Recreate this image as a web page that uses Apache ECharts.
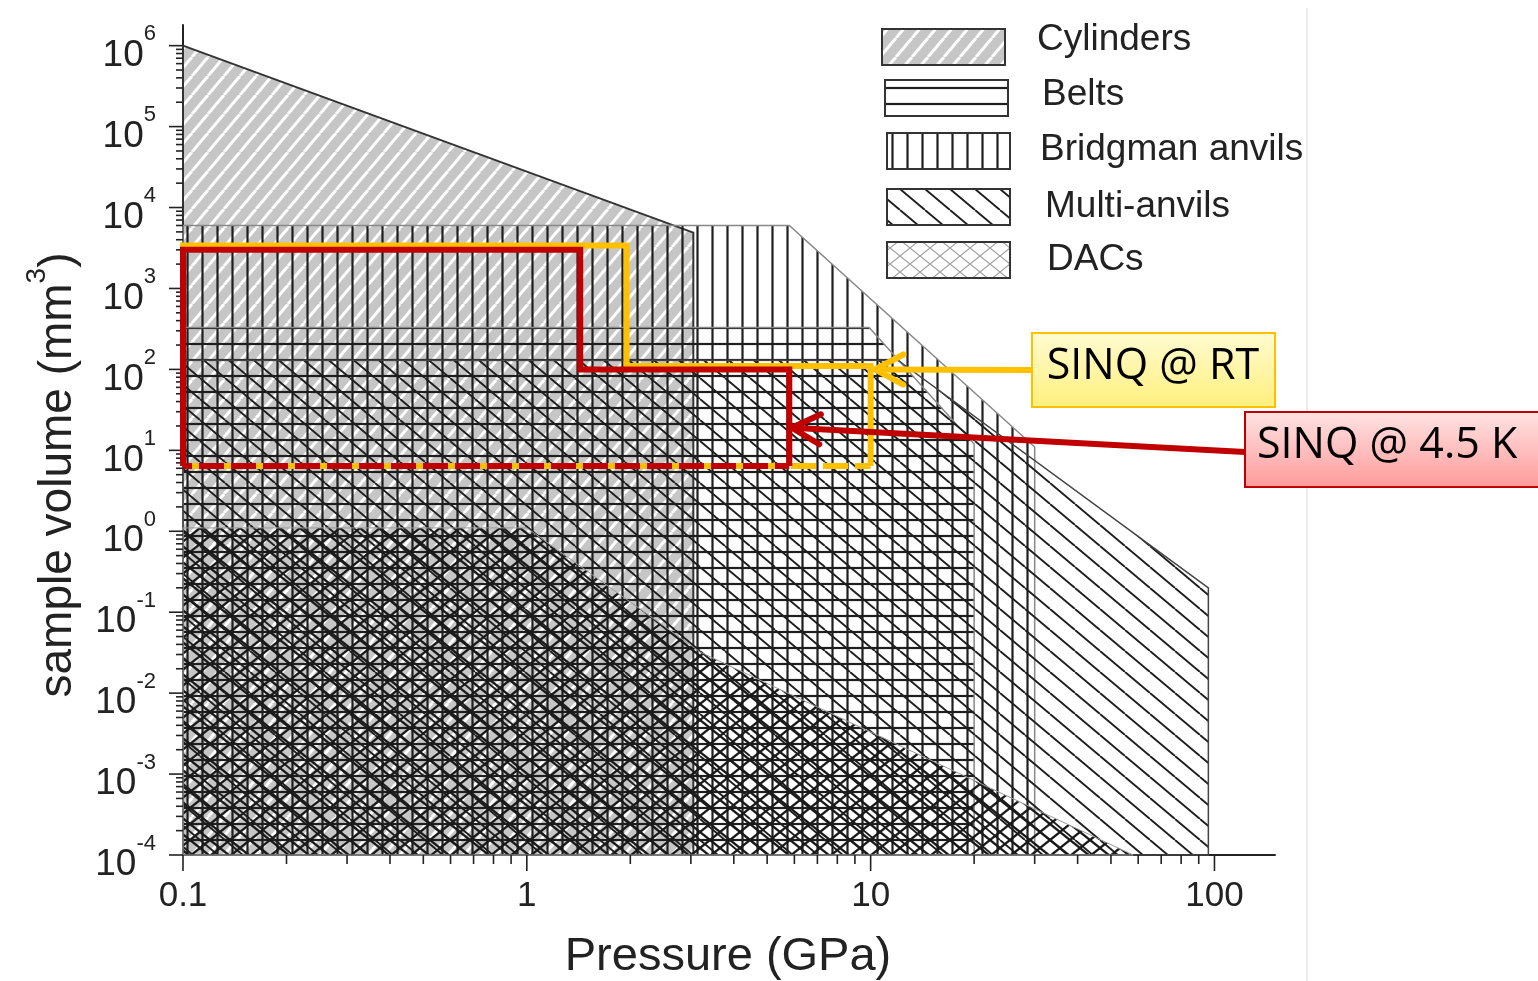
<!DOCTYPE html>
<html>
<head>
<meta charset="utf-8">
<title>Sample volume vs pressure</title>
<script src="https://cdn.jsdelivr.net/npm/echarts@6/dist/echarts.min.js"></script>
<style>
    html, body { margin: 0; padding: 0; background: #fff; }
    #main { width: 1538px; height: 981px; }
</style>
</head>
<body>
<div id="main"></div>
<script>
// axis ranges
var xMin = 0.1, xMax = 150;
var yMin = 1e-4, yMax = 1.8e6;
var pressureTicks = [0.1, 1, 10, 100];
var volumeTicks = [1e-4, 1e-3, 1e-2, 1e-1, 1, 10, 100, 1e3, 1e4, 1e5, 1e6];

// outline of each technique, [pressure GPa, volume mm^3]
var cylinders = [[0.1, 1e-4], [0.1, 1e6], [3.05, 4.9e3], [3.05, 1e-4]];
var bridgman = [[0.1, 1e-4], [0.1, 6e3], [5.8, 6e3], [30, 11], [30, 1e-4]];
var belts = [[0.1, 1e-4], [0.1, 330], [9.9, 330], [20, 12], [20, 1e-4]];
var multiAnvils = [[0.1, 1e-4], [0.1, 130], [12, 130], [96, 0.2], [96, 1e-4]];
var dacs = [[0.1, 1e-4], [0.1, 1.1], [1, 1.1], [3.2, 0.032], [58, 1e-4]];

// SINQ ranges
var sinqRT = [[0.1, 6.4], [0.1, 3.4e3], [1.95, 3.4e3], [1.95, 110], [10, 110], [10, 6.4]];
var sinqRTBottom = [[0.1, 6.4], [10, 6.4]];
var sinq4K = [[0.1, 6.4], [0.1, 3e3], [1.43, 3e3], [1.43, 100], [5.8, 100], [5.8, 6.4]];
var sinq4KBottom = [[0.1, 6.4], [5.8, 6.4]];
var rtTip = [10.3, 100];
var lowTip = [5.9, 19];

// minor tick positions 2..9 per decade
function logMinor(lo, hi) {
    var out = [];
    for (var e = lo; e < hi; e++) {
        for (var k = 2; k <= 9; k++) out.push(k * Math.pow(10, e));
    }
    return out;
}
var xMinor = logMinor(-1, 2);
var yMinor = logMinor(-4, 6);

// hatch fills
function hatch(w, h, bg, stroke, width, segs) {
    var c = document.createElement('canvas');
    c.width = w; c.height = h;
    var ctx = c.getContext('2d');
    if (bg) { ctx.fillStyle = bg; ctx.fillRect(0, 0, w, h); }
    ctx.strokeStyle = stroke;
    ctx.lineWidth = width;
    segs.forEach(function(s) {
        ctx.beginPath(); ctx.moveTo(s[0], s[1]); ctx.lineTo(s[2], s[3]); ctx.stroke();
    });
    return { image: c, repeat: 'repeat' };
}
var cylFill = hatch(16, 19, '#c6c6c6', '#ffffff', 3, [[-16, 19, 0, 0], [0, 19, 16, 0], [16, 19, 32, 0]]);
var bridgFill = hatch(15, 10, null, '#1e1e1e', 2.2, [[7.5, -1, 7.5, 11]]);
var beltFill = hatch(10, 16, null, '#1e1e1e', 2.2, [[-1, 8, 11, 8]]);
var multiFill = hatch(25, 21, null, '#1e1e1e', 1.9, [[-25, 0, 0, 21], [0, 0, 25, 21], [25, 0, 50, 21]]);
var xSegs = [[-20, 0, 0, 16], [0, 0, 20, 16], [20, 0, 40, 16], [-20, 16, 0, 0], [0, 16, 20, 0], [20, 16, 40, 0]];
var dacFill = hatch(20, 16, null, '#1a1a1a', 2.3, xSegs);
var dacLegendFill = hatch(20, 16, null, '#a0a0a0', 1.2, xSegs);

var regions = [
    { pts: cylinders, fill: cylFill, stroke: '#333', width: 2 },
    { pts: bridgman, fill: bridgFill, stroke: '#888', width: 1.5 },
    { pts: belts, fill: beltFill, stroke: '#888', width: 1.5 },
    { pts: multiAnvils, fill: multiFill, stroke: '#444', width: 1.5 },
    { pts: dacs, fill: dacFill, stroke: '#999', width: 1 }
];

var chart = echarts.init(document.getElementById('main'));

function isPow(v) {
    var l = Math.log10(v);
    return Math.abs(l - Math.round(l)) < 1e-6;
}

function tickSeries(vals, onX, len) {
    return {
        type: 'custom',
        silent: true,
        data: vals.map(function(v) { return onX ? [v, yMin] : [xMin, v]; }),
        renderItem: function(params, api) {
            var p = api.coord([api.value(0), api.value(1)]);
            var shape = onX ? { x1: p[0], y1: p[1], x2: p[0], y2: p[1] + len }
                            : { x1: p[0], y1: p[1], x2: p[0] - len, y2: p[1] };
            return { type: 'line', shape: shape, style: { stroke: '#222', lineWidth: 1.6 } };
        }
    };
}

function pathSeries(pts, color, dash, offset) {
    return {
        type: 'custom',
        silent: true,
        data: [pts[0]],
        renderItem: function(params, api) {
            return {
                type: 'polyline',
                shape: { points: pts.map(function(p) { return api.coord(p); }) },
                style: { stroke: color, lineWidth: 6, fill: null, lineDash: dash, lineDashOffset: offset || 0, lineJoin: 'miter' }
            };
        }
    };
}

// y tick labels 10^n
var volumeLabels = {
    type: 'custom',
    silent: true,
    data: volumeTicks.map(function(v) { return [xMin, v]; }),
    renderItem: function(params, api) {
        var p = api.coord([api.value(0), api.value(1)]);
        var e = Math.round(Math.log10(api.value(1)));
        return {
            type: 'text', x: p[0] - 27, y: p[1] + 3,
            style: {
                text: '{b|10}{s|' + e + '}', align: 'right', verticalAlign: 'middle',
                rich: {
                    b: { fontSize: 37, fontFamily: 'Liberation Sans', fill: '#222', padding: [14, 0, 0, 0] },
                    s: { fontSize: 22, fontFamily: 'Liberation Sans', fill: '#222', verticalAlign: 'top' }
                }
            }
        };
    }
};

chart.setOption({
    animation: false,
    backgroundColor: '#fff',
    grid: { left: 183, right: 263, top: 25, bottom: 126, outerBoundsMode: 'none' },
    xAxis: {
        type: 'log', logBase: 10, min: xMin, max: xMax, splitNumber: 4,
        axisLine: { lineStyle: { color: '#222', width: 2 } },
        axisTick: { show: false },
        splitLine: { show: false },
        axisLabel: {
            margin: 24, fontSize: 35, fontFamily: 'Liberation Sans', color: '#222',
            formatter: function(v) {
                if (!isPow(v)) return '';
                return v < 1 ? '0.1' : String(Math.round(v));
            }
        }
    },
    yAxis: {
        type: 'log', logBase: 10, min: yMin, max: yMax,
        axisLine: { lineStyle: { color: '#222', width: 2 } },
        axisTick: { show: false },
        splitLine: { show: false },
        axisLabel: { show: false }
    },
    series: [
        {
            type: 'custom',
            silent: true,
            data: regions.map(function(r) { return r.pts[1]; }),
            renderItem: function(params, api) {
                var r = regions[params.dataIndex];
                return {
                    type: 'polygon',
                    shape: { points: r.pts.map(function(p) { return api.coord(p); }) },
                    style: { fill: r.fill, stroke: r.stroke, lineWidth: r.width }
                };
            }
        },
        tickSeries(pressureTicks, true, 16),
        tickSeries(xMinor, true, 9),
        tickSeries(volumeTicks, false, 14),
        tickSeries(yMinor, false, 7),
        volumeLabels,
        pathSeries(sinqRT, '#ffc000'),
        pathSeries(sinqRTBottom, '#ffc000', [25, 7], 0),
        pathSeries(sinq4K, '#c00000'),
        pathSeries(sinq4KBottom, '#c00000', [25, 7], 16)
    ]
});

// legend, titles and call-outs
function arrow(tipData, tail, color) {
    var tip = chart.convertToPixel({ xAxisIndex: 0, yAxisIndex: 0 }, tipData);
    var dx = tail[0] - tip[0], dy = tail[1] - tip[1];
    var len = Math.sqrt(dx * dx + dy * dy), ux = dx / len, uy = dy / len;
    var a = 28 * Math.PI / 180, L = 32;
    function arm(s) {
        return [tip[0] + L * (ux * Math.cos(s * a) - uy * Math.sin(s * a)),
                tip[1] + L * (ux * Math.sin(s * a) + uy * Math.cos(s * a))];
    }
    return [
        { type: 'line', shape: { x1: tail[0], y1: tail[1], x2: tip[0], y2: tip[1] }, style: { stroke: color, lineWidth: 6 }, z: 50 },
        { type: 'polyline', shape: { points: [arm(1), tip, arm(-1)] }, style: { stroke: color, lineWidth: 6, lineCap: 'round', lineJoin: 'round', fill: null }, z: 50 }
    ];
}

function swatch(x, y, fill, label, tx, ty) {
    return [
        { type: 'rect', shape: { x: x, y: y, width: 123, height: 36 }, style: { fill: fill, stroke: '#333', lineWidth: 2 }, z: 40 },
        { type: 'text', x: tx, y: ty, style: { text: label, fontSize: 37, fontFamily: 'Liberation Sans', fill: '#222', verticalAlign: 'middle' }, z: 40 }
    ];
}

function grad(c0, c1) {
    return { type: 'linear', x: 0, y: 0, x2: 0, y2: 1, colorStops: [{ offset: 0, color: c0 }, { offset: 1, color: c1 }] };
}

var graphics = [].concat(
    [{ type: 'line', shape: { x1: 1307, y1: 8, x2: 1307, y2: 981 }, style: { stroke: '#d4d4d4', lineWidth: 1 }, z: 1 }],
    swatch(882, 29, cylFill, 'Cylinders', 1037, 40),
    swatch(885, 80, beltFill, 'Belts', 1042, 95),
    swatch(887, 133, bridgFill, 'Bridgman anvils', 1040, 150),
    swatch(887, 189, multiFill, 'Multi-anvils', 1045, 207),
    swatch(887, 242, dacLegendFill, 'DACs', 1047, 260),
    arrow(rtTip, [1032, 370], '#ffc000'),
    arrow(lowTip, [1245, 452], '#c00000'),
    [
        { type: 'rect', shape: { x: 1032, y: 333, width: 243, height: 74 }, style: { fill: grad('#fffbd2', '#fff07c'), stroke: '#ffc000', lineWidth: 2 }, z: 60 },
        { type: 'text', x: 1153, y: 367, style: { text: 'SINQ @ RT', fontSize: 43, fontFamily: 'Open Sans', fill: '#000', align: 'center', verticalAlign: 'middle' }, z: 61 },
        { type: 'rect', shape: { x: 1245, y: 412, width: 300, height: 75 }, style: { fill: grad('#ffe4e4', '#ff9a9a'), stroke: '#c00000', lineWidth: 2 }, z: 60 },
        { type: 'text', x: 1257, y: 446, style: { text: 'SINQ @ 4.5 K', fontSize: 43, fontFamily: 'Open Sans', fill: '#000', verticalAlign: 'middle' }, z: 61 },
        { type: 'text', x: 728, y: 957, style: { text: 'Pressure (GPa)', fontSize: 47, fontFamily: 'Liberation Sans', fill: '#222', align: 'center', verticalAlign: 'middle' }, z: 40 },
        {
            type: 'text', x: 52, y: 475, rotation: Math.PI / 2, z: 40,
            style: {
                text: '{a|sample volume (mm}{s|3}{a|)}', align: 'center', verticalAlign: 'middle',
                rich: {
                    a: { fontSize: 46, fontFamily: 'Liberation Sans', fill: '#222', padding: [12, 0, 0, 0] },
                    s: { fontSize: 28, fontFamily: 'Liberation Sans', fill: '#222', verticalAlign: 'top' }
                }
            }
        }
    ]
);

chart.setOption({ graphic: graphics });
</script>
</body>
</html>
